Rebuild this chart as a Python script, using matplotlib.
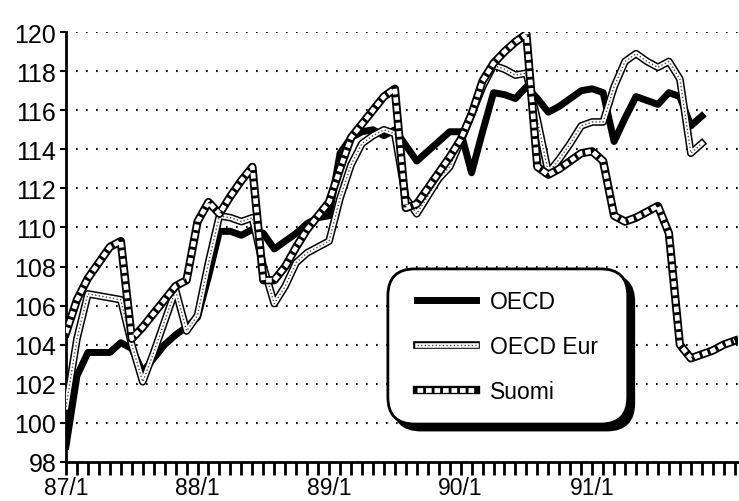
import matplotlib
matplotlib.use("Agg")
import matplotlib.pyplot as plt
from matplotlib.patches import FancyBboxPatch
from matplotlib.legend_handler import HandlerTuple

# monthly index values, 87/1 onwards
oecd = [98.8, 102.4, 103.6, 103.6, 103.6, 104.1, 103.8, 102.6, 103.3, 104.0, 104.5, 104.9,
        105.4, 107.5, 109.8, 109.8, 109.6, 109.9, 109.7, 108.9, 109.3, 109.7, 110.2, 110.5,
        110.6, 113.8, 114.6, 114.9, 115.0, 114.7, 115.0, 114.2, 113.4, 113.9, 114.4, 114.9,
        114.9, 112.8, 114.9, 116.9, 116.8, 116.6, 117.2, 116.6, 115.9, 116.2, 116.6, 117.0,
        117.1, 116.9, 114.4, 115.6, 116.7, 116.5, 116.3, 116.9, 116.7, 115.2, 115.7]
oecd_eur = [100.8, 104.3, 106.6, 106.5, 106.4, 106.3, 104.0, 102.1, 103.6, 105.2, 106.8, 104.7,
            105.5, 108.2, 110.6, 110.5, 110.3, 110.5, 108.0, 106.1, 107.0, 108.2, 108.7, 109.0,
            109.3, 111.5, 113.2, 114.3, 114.7, 115.0, 114.8, 111.5, 110.7, 111.6, 112.5, 113.1,
            114.4, 115.8, 117.2, 118.3, 118.1, 117.8, 117.9, 115.5, 112.8, 113.5, 114.3, 115.2,
            115.4, 115.4, 117.2, 118.5, 118.9, 118.5, 118.2, 118.5, 117.6, 113.8, 114.3]
suomi = [104.6, 106.3, 107.4, 108.2, 109.0, 109.3, 104.3, 104.9, 105.6, 106.3, 107.0, 107.3,
         110.3, 111.3, 110.7, 111.6, 112.4, 113.1, 107.3, 107.3, 108.0, 109.0, 109.9, 110.6,
         111.3, 113.0, 114.6, 115.3, 116.0, 116.7, 117.1, 111.0, 111.2, 112.0, 112.8, 113.6,
         114.5, 115.8, 117.5, 118.4, 119.0, 119.5, 119.9, 113.1, 112.7, 113.0, 113.4, 113.8,
         113.9, 113.4, 110.6, 110.3, 110.5, 110.8, 111.1, 109.7, 104.0, 103.3, 103.5, 103.7,
         104.0, 104.2]
year_labels = ["87/1", "88/1", "89/1", "90/1", "91/1"]
y_ticks = [98, 100, 102, 104, 106, 108, 110, 112, 114, 116, 118, 120]

plt.rcParams['font.family'] = ['Liberation Sans', 'DejaVu Sans']

fig = plt.figure(figsize=(7.39, 5.02), dpi=100)
ax = fig.add_axes([0.0893, 0.078, 0.9093, 0.856])

# dotted grid
for v in y_ticks[1:]:
  ax.axhline(v, color='black', lw=1.5, linestyle=(0, (0.8, 4)), zorder=1)

x1 = list(range(len(oecd)))
x2 = list(range(len(oecd_eur)))
x3 = list(range(len(suomi)))

h1 = ax.plot(x1, oecd, color='black', lw=5, zorder=3)[0]

e1 = ax.plot(x2, oecd_eur, color='black', lw=5.5, zorder=4)[0]
e2 = ax.plot(x2, oecd_eur, color='white', lw=3.3, zorder=4)[0]
e3 = ax.plot(x2, oecd_eur, color='0.3', lw=1, linestyle=(0, (1, 1.6)), zorder=4)[0]

s1 = ax.plot(x3, suomi, color='black', lw=6, zorder=5)[0]
s2 = ax.plot(x3, suomi, color='white', lw=3.4, linestyle=(0, (1.2, 0.6)), zorder=5)[0]

ax.set_xlim(0, 61.3)
ax.set_ylim(98, 120)
ax.set_yticks(y_ticks)
ax.set_xticks([0, 12, 24, 36, 48])
ax.set_xticklabels(year_labels)
ax.set_xticks(range(0, 62), minor=True)

for s in ['top', 'right']:
  ax.spines[s].set_visible(False)
for s in ['left', 'bottom']:
  ax.spines[s].set_linewidth(2)

ax.tick_params(axis='y', direction='out', length=4, width=1.5, labelsize=18, pad=3)
ax.tick_params(axis='x', which='both', direction='out', length=9, width=2, labelsize=16.5, pad=1)

# legend box with a solid shadow, drawn by hand
aspect = 672 / 430
bx, by, bw, bh = 0.479, 0.088, 0.357, 0.361
shadow = FancyBboxPatch((bx + 6 / 672, by - 6 / 430), bw, bh, transform=ax.transAxes,
                        boxstyle='round,pad=0,rounding_size=0.04', mutation_aspect=aspect,
                        facecolor='black', edgecolor='black', lw=2, zorder=9, clip_on=False)
box = FancyBboxPatch((bx, by), bw, bh, transform=ax.transAxes,
                     boxstyle='round,pad=0,rounding_size=0.04', mutation_aspect=aspect,
                     facecolor='white', edgecolor='black', lw=2, zorder=9.5, clip_on=False)
ax.add_patch(shadow)
ax.add_patch(box)

leg = ax.legend([h1, (e1, e2, e3), (s1, s2)], ["OECD", "OECD Eur", "Suomi"],
                handler_map={tuple: HandlerTuple(ndivide=1)},
                loc='center left', bbox_to_anchor=(0.522, by + bh / 2),
                fontsize=16.5, handlelength=2.6, handletextpad=0.6,
                labelspacing=0.95, borderpad=0, borderaxespad=0, frameon=False)
leg.set_zorder(10)

fig.savefig("out.png", dpi=100)
